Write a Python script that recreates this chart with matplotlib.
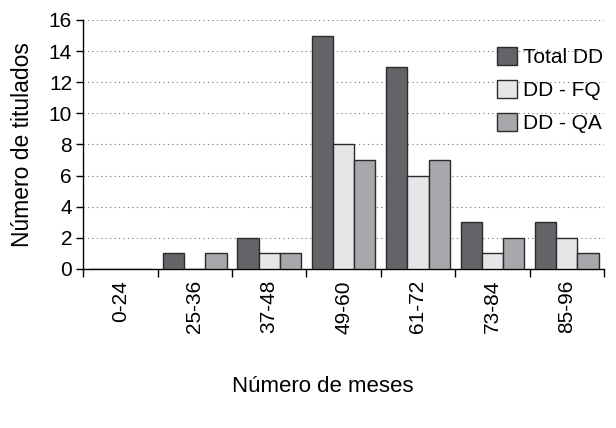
import numpy as np
import matplotlib
matplotlib.use('Agg')
import matplotlib.pyplot as plt

plt.rcParams['font.family'] = ['Liberation Sans', 'DejaVu Sans']

# Data
categories = ['0-24', '25-36', '37-48', '49-60', '61-72', '73-84', '85-96']
total_dd = [0, 1, 2, 15, 13, 3, 3]
dd_fq = [0, 0, 1, 8, 6, 1, 2]
dd_qa = [0, 1, 1, 7, 7, 2, 1]
series_names = ['Total DD', 'DD - FQ', 'DD - QA']
colors = ['#636468', '#e5e6e8', '#a7a8ab']

fig = plt.figure(figsize=(6.16, 4.28), dpi=100)
ax = fig.add_axes([0.135, 0.3715, 0.8455, 0.5818])

x = np.arange(len(categories))
w = 0.285
for i, (vals, name) in enumerate(zip([total_dd, dd_fq, dd_qa], series_names)):
    ax.bar(x + (i - 1) * w, vals, width=w, color=colors[i], edgecolor='#2b2b2b',
           linewidth=1.0, label=name, zorder=3)

ax.set_xlim(-0.5, len(categories) - 0.5)
ax.set_ylim(0, 16)
ax.set_yticks(range(0, 17, 2))

# gridlines, dotted
for yv in range(2, 17, 2):
    ax.axhline(yv, color='#777777', linestyle=(0, (1, 3)), linewidth=0.8, zorder=1)

# category boundary ticks, labels centred between
ax.set_xticks(np.arange(-0.5, len(categories), 1.0))
ax.set_xticklabels([])
ax.set_xticks(x, minor=True)
ax.set_xticklabels(categories, minor=True, rotation=90, fontsize=15)
ax.tick_params(axis='x', which='minor', length=0, pad=8)
ax.tick_params(axis='x', which='major', length=6, width=1, direction='out')
ax.tick_params(axis='y', length=5, width=1, labelsize=15, pad=3)

for s in ['top', 'right']:
    ax.spines[s].set_visible(False)
ax.spines['left'].set_linewidth(1)
ax.spines['bottom'].set_linewidth(1)

ax.set_ylabel('Número de titulados', fontsize=16.5)
ax.yaxis.set_label_coords(-0.095, 0.5)
ax.set_xlabel('Número de meses', fontsize=16)
ax.xaxis.set_label_coords(0.46, -0.43)

ax.legend(loc='upper right', bbox_to_anchor=(1.015, 0.925), frameon=False, fontsize=15,
          handlelength=0.95, handleheight=0.95, handletextpad=0.3, labelspacing=0.62,
          borderaxespad=0)

fig.savefig('out.png', dpi=100)
